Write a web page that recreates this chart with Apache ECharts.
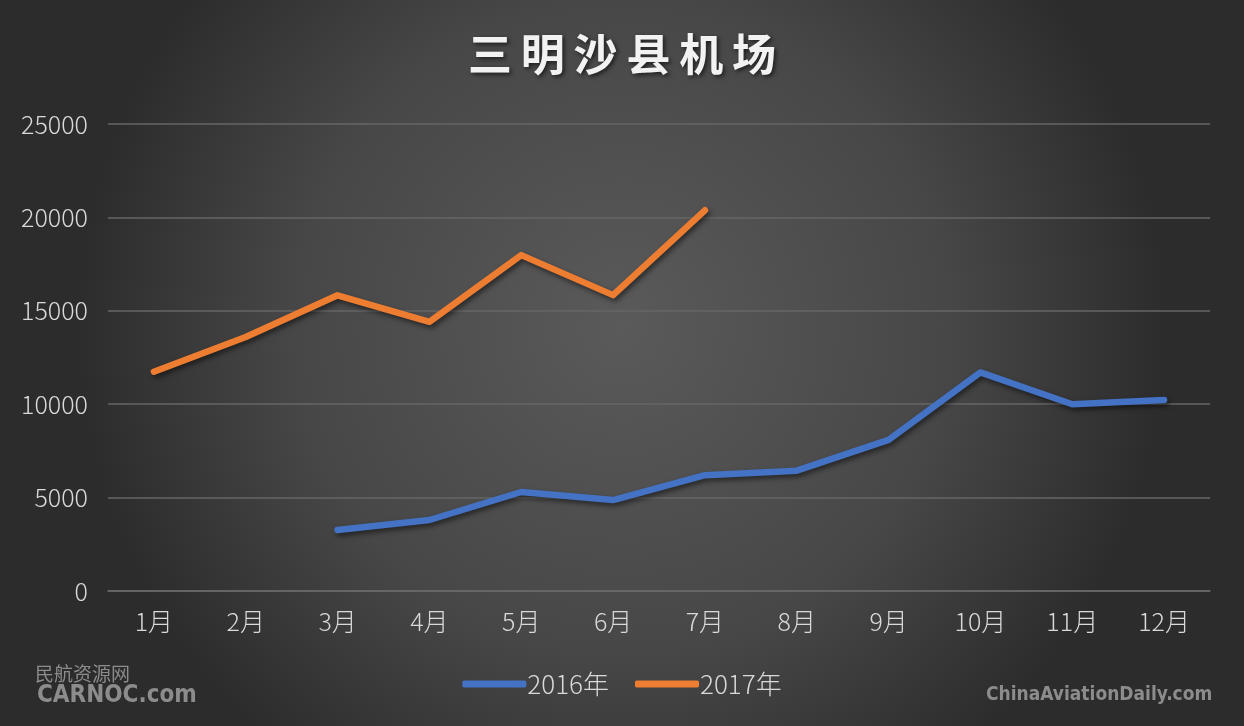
<!DOCTYPE html>
<html><head><meta charset="utf-8">
<script src="https://cdn.jsdelivr.net/npm/echarts@6/dist/echarts.min.js"></script>
<style>html,body{margin:0;padding:0;background:#333}#c{width:1244px;height:726px}</style>
</head><body><div id="c"></div>
<script>
const categories = ['1月','2月','3月','4月','5月','6月','7月','8月','9月','10月','11月','12月'];
const series2016 = [null, null, 3270, 3800, 5300, 4870, 6200, 6440, 8090, 11700, 10000, 10230];
const series2017 = [11740, 13600, 15830, 14410, 17980, 15840, 20380, null, null, null, null, null];
const yTicks = [0, 5000, 10000, 15000, 20000, 25000];
const seriesNames = ['2016年', '2017年'];
const titleText = '三明沙县机场';

const chart = echarts.init(document.getElementById('c'));
const font = '"Noto Sans CJK SC","Noto Sans",sans-serif';
chart.setOption({
  backgroundColor: {
    type: 'radial', x: 0.5, y: 0.45, r: 0.75,
    colorStops: [{offset: 0, color: '#5a5a5a'}, {offset: 0.6, color: '#474747'}, {offset: 1, color: '#2c2c2c'}]
  },
  title: {
    text: titleText.split('').join('\u2009'), left: 'center', top: 27,
    textStyle: {color: '#f2f2f2', fontSize: 44, fontWeight: 'bold', fontFamily: font,
      textShadowColor: 'rgba(0,0,0,0.6)', textShadowBlur: 4, textShadowOffsetX: 2, textShadowOffsetY: 2}
  },
  legend: {
    data: seriesNames, bottom: 24, left: 'center', itemWidth: 64, itemHeight: 7, itemGap: 26,
    textStyle: {color: '#d9d9d9', fontSize: 26, fontWeight: 300, fontFamily: font, padding: [0,0,0,-4]},
    icon: 'roundRect'
  },
  grid: {left: 108, right: 34, top: 124, bottom: 135, containLabel: false},
  xAxis: {
    type: 'category', data: categories, boundaryGap: true,
    axisLine: {show: true, lineStyle: {color: '#6a6a6a', width: 1.5}},
    axisTick: {show: false},
    axisLabel: {color: '#d9d9d9', fontSize: 25, fontWeight: 300, fontFamily: font, margin: 18}
  },
  yAxis: {
    type: 'value', min: yTicks[0], max: yTicks[yTicks.length-1], interval: 5000,
    axisLine: {show: false}, axisTick: {show: false},
    splitLine: {lineStyle: {color: '#666666', width: 1.5}},
    axisLabel: {color: '#d9d9d9', fontSize: 25, fontWeight: 300, fontFamily: font, margin: 20,
      formatter: v => String(v)}
  },
  series: [
    {name: seriesNames[0], type: 'line', data: series2016, showSymbol: false, symbol: 'none',
      lineStyle: {color: '#4472C4', width: 6.5, cap: 'round', join: 'round', shadowColor: 'rgba(0,0,0,0.5)', shadowBlur: 5, shadowOffsetX: 2, shadowOffsetY: 3},
      itemStyle: {color: '#4472C4'}},
    {name: seriesNames[1], type: 'line', data: series2017, showSymbol: false, symbol: 'none',
      lineStyle: {color: '#ED7D31', width: 6.5, cap: 'round', join: 'round', shadowColor: 'rgba(0,0,0,0.5)', shadowBlur: 5, shadowOffsetX: 2, shadowOffsetY: 3},
      itemStyle: {color: '#ED7D31'}}
  ],
  graphic: [
    {type: 'text', left: 35, top: 664, style: {text: '民航资源网', fill: '#8c8c8c', font: '19px "Noto Sans CJK SC"'}},
    {type: 'text', left: 37, top: 684, style: {text: 'CARNOC.com', fill: '#8c8c8c', font: 'bold 24px "DejaVu Sans Condensed",sans-serif'}},
    {type: 'text', left: 986, top: 686, style: {text: 'ChinaAviationDaily.com', fill: '#8c8c8c', font: 'bold 19px "DejaVu Sans Condensed",sans-serif'}}
  ]
});
</script></body></html>
